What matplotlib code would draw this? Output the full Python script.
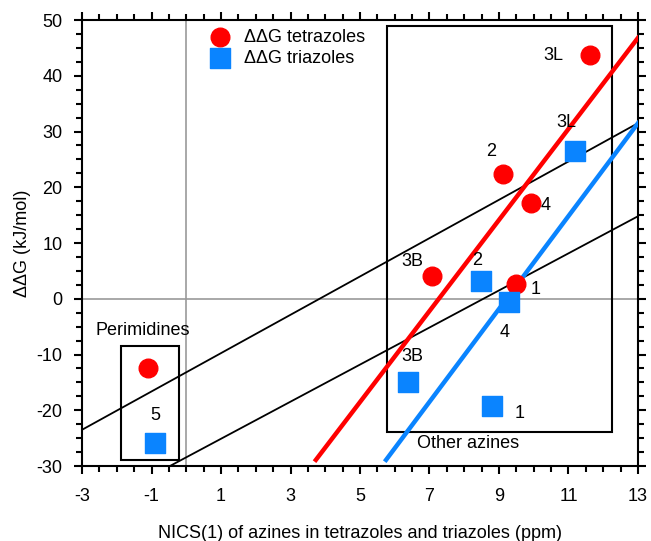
import matplotlib.pyplot as plt
from matplotlib.patches import Rectangle
from matplotlib.ticker import MultipleLocator, FixedLocator

plt.rcParams['font.family'] = ['Liberation Sans', 'DejaVu Sans']
plt.rcParams['axes.unicode_minus'] = False

# tetrazoles (red circles)
tet_x = [-1.10, 7.07, 9.11, 9.92, 9.49, 11.62]
tet_y = [-12.4, 4.1, 22.4, 17.2, 2.6, 43.7]
# triazoles (blue squares)
tri_x = [-0.90, 6.38, 8.80, 8.48, 9.29, 11.19]
tri_y = [-25.9, -14.9, -19.2, 3.2, -0.6, 26.5]

# fitted lines
red_line_x = [3.73, 13.0]
red_line_y = [-28.9, 46.8]
blue_line_x = [5.75, 13.0]
blue_line_y = [-28.9, 31.5]
black1_x = [-3.0, 13.0]
black1_y = [-23.5, 31.5]
black2_x = [-0.47, 13.0]
black2_y = [-30.0, 14.8]

# point labels: (text, x, y)
tet_labels = [("3B", 6.5, 6.6), ("2", 8.77, 26.5), ("4", 10.35, 16.8),
              ("1", 10.04, 1.6), ("3L", 10.55, 43.7)]
tri_labels = [("5", -0.9, -20.9), ("3L", 10.93, 31.7), ("2", 8.37, 6.9),
              ("4", 9.17, -6.1), ("3B", 6.52, -10.4), ("1", 9.6, -20.5)]

fig = plt.figure(figsize=(6.51, 5.41), dpi=100)
ax = fig.add_axes([0.126, 0.1386, 0.854, 0.8244])

ax.axvline(0, color='#999999', lw=1.2, zorder=1)
ax.axhline(0, color='#999999', lw=1.2, zorder=1)

ax.plot(black1_x, black1_y, color='black', lw=1.3, zorder=2)
ax.plot(black2_x, black2_y, color='black', lw=1.3, zorder=2)
ax.plot(red_line_x, red_line_y, color='#ff0000', lw=3.2, zorder=3)
ax.plot(blue_line_x, blue_line_y, color='#0a84ff', lw=3.2, zorder=3)

ax.add_patch(Rectangle((-1.88, -28.9), 1.67, 20.4, fill=False, ec='black', lw=1.5, zorder=2))
ax.add_patch(Rectangle((5.78, -23.9), 6.47, 72.8, fill=False, ec='black', lw=1.5, zorder=2))

ax.scatter(tet_x, tet_y, s=180, marker='o', color='#ff0000', zorder=4,
           label='ΔΔG tetrazoles')
ax.scatter(tri_x, tri_y, s=200, marker='s', color='#0a84ff', zorder=4,
           label='ΔΔG triazoles')

for t, x, y in tet_labels + tri_labels:
    ax.text(x, y, t, fontsize=13, ha='center', va='center', zorder=5)
ax.text(-1.25, -5.7, "Perimidines", fontsize=13, ha='center', va='center')
ax.text(8.1, -25.9, "Other azines", fontsize=13, ha='center', va='center')

ax.set_xlim(-3, 13)
ax.set_ylim(-30, 50)
ax.xaxis.set_major_locator(FixedLocator(range(-3, 14, 2)))
ax.xaxis.set_minor_locator(MultipleLocator(0.5))
ax.yaxis.set_major_locator(MultipleLocator(10))
ax.yaxis.set_minor_locator(MultipleLocator(2.5))
ax.tick_params(which='both', direction='out', top=True, right=True,
               labeltop=False, labelright=False, width=1.5, labelsize=13)
ax.tick_params(which='major', length=6)
ax.tick_params(which='minor', length=4)
ax.tick_params(axis='x', which='major', pad=10)
ax.tick_params(axis='y', which='major', pad=8)
for s in ax.spines.values():
    s.set_linewidth(1.5)

ax.set_xlabel("NICS(1) of azines in tetrazoles and triazoles (ppm)", fontsize=13, labelpad=14)
ax.set_ylabel("ΔΔG (kJ/mol)", fontsize=13, labelpad=4)

ax.legend(loc='upper left', bbox_to_anchor=(0.2, 1.0), frameon=False, fontsize=13,
          handletextpad=0.3, labelspacing=0.2, borderaxespad=0.1)

fig.savefig('out.png', dpi=100)
